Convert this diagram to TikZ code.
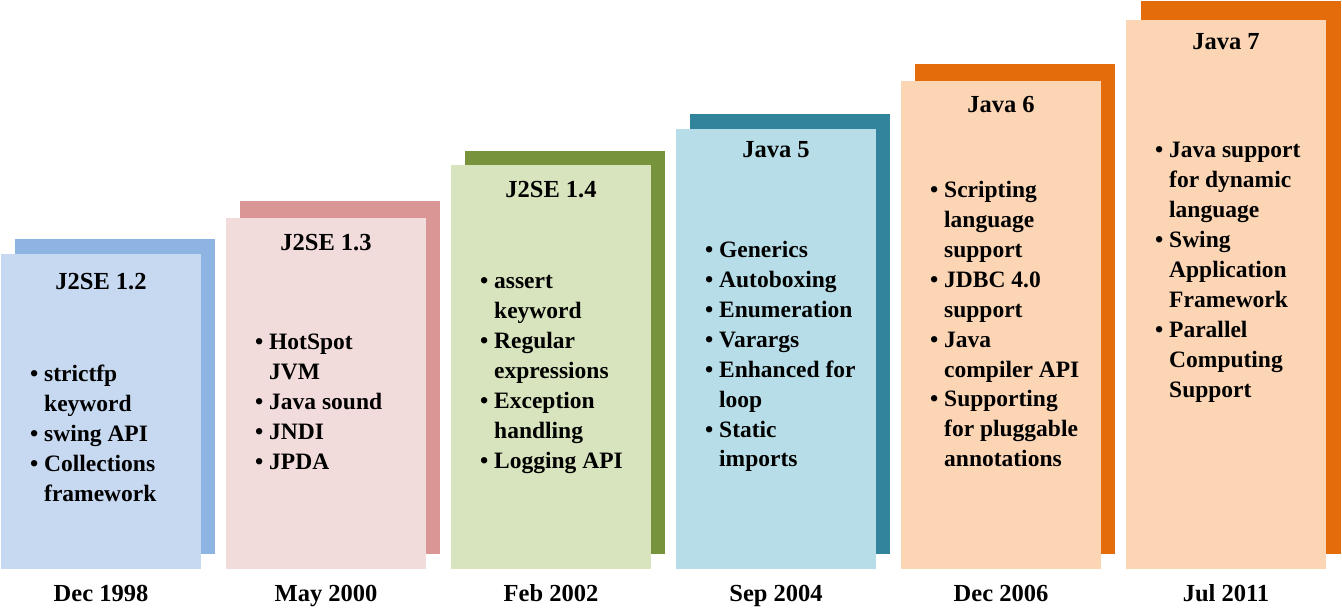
\documentclass[tikz,border=0pt]{standalone}
\usepackage{fontspec}
\setmainfont{Liberation Serif}
\definecolor{fA}{HTML}{C6D9F1}\definecolor{bA}{HTML}{8EB4E3}
\definecolor{fB}{HTML}{F2DCDB}\definecolor{bB}{HTML}{D99694}
\definecolor{fC}{HTML}{D7E4BD}\definecolor{bC}{HTML}{77933C}
\definecolor{fD}{HTML}{B7DEE8}\definecolor{bD}{HTML}{31849B}
\definecolor{fE}{HTML}{FCD5B5}\definecolor{bE}{HTML}{E46C0A}
\newcommand\myb{\makebox[14pt][l]{\textbullet}}
\begin{document}
\begin{tikzpicture}[x=1pt,y=-1pt,
  panel/.style={draw=none,rectangle,inner sep=0pt,outer sep=0pt,anchor=north west,minimum width=200pt},
  ttl/.style={anchor=base,inner sep=0pt,font=\bfseries\fontsize{24.5}{30}\selectfont},
  items/.style={anchor=base west,inner sep=0pt,font=\bfseries\fontsize{23.5}{30}\selectfont},
  datelbl/.style={anchor=base,inner sep=0pt,font=\bfseries\fontsize{24.5}{30}\selectfont}]
\useasboundingbox (0,0) rectangle (1342,615);
% column 1
\node[panel,fill=bA,minimum height=315pt] (back1) at (15,239) {};
\node[panel,fill=fA,minimum height=315pt] (front1) at (1,254) {};
\node[ttl] (title1) at (101,289) {J2SE 1.2};
\node[items] (list1) at (30,381) {\begin{tabular}[t]{@{}l@{}l@{}}
\myb&strictfp\\ &keyword\\ \myb&swing API\\ \myb&Collections\\ &framework\end{tabular}};
\node[datelbl] (date1) at (101,601) {Dec 1998};
% column 2
\node[panel,fill=bB,minimum height=353pt] (back2) at (240,201) {};
\node[panel,fill=fB,minimum height=351pt] (front2) at (226,218) {};
\node[ttl] (title2) at (326,250) {J2SE 1.3};
\node[items] (list2) at (255,349) {\begin{tabular}[t]{@{}l@{}l@{}}
\myb&HotSpot\\ &JVM\\ \myb&Java sound\\ \myb&JNDI\\ \myb&JPDA\end{tabular}};
\node[datelbl] (date2) at (326,601) {May 2000};
% column 3
\node[panel,fill=bC,minimum height=403pt] (back3) at (465,151) {};
\node[panel,fill=fC,minimum height=404pt] (front3) at (451,165) {};
\node[ttl] (title3) at (551,197) {J2SE 1.4};
\node[items] (list3) at (480,288) {\begin{tabular}[t]{@{}l@{}l@{}}
\myb&assert\\ &keyword\\ \myb&Regular\\ &expressions\\ \myb&Exception\\ &handling\\ \myb&Logging API\end{tabular}};
\node[datelbl] (date3) at (551,601) {Feb 2002};
% column 4
\node[panel,fill=bD,minimum height=440pt] (back4) at (690,114) {};
\node[panel,fill=fD,minimum height=440pt] (front4) at (676,129) {};
\node[ttl] (title4) at (776,158) {Java 5};
\node[items] (list4) at (705,257) {\begin{tabular}[t]{@{}l@{}l@{}}
\myb&Generics\\ \myb&Autoboxing\\ \myb&Enumeration\\ \myb&Varargs\\ \myb&Enhanced for\\ &loop\\ \myb&Static\\ &imports\end{tabular}};
\node[datelbl] (date4) at (776,601) {Sep 2004};
% column 5
\node[panel,fill=bE,minimum height=490pt] (back5) at (915,64) {};
\node[panel,fill=fE,minimum height=488pt] (front5) at (901,81) {};
\node[ttl] (title5) at (1001,113) {Java 6};
\node[items] (list5) at (930,197) {\begin{tabular}[t]{@{}l@{}l@{}}
\myb&Scripting\\ &language\\ &support\\ \myb&JDBC 4.0\\ &support\\ \myb&Java\\ &compiler API\\ \myb&Supporting\\ &for pluggable\\ &annotations\end{tabular}};
\node[datelbl] (date5) at (1001,601) {Dec 2006};
% column 6
\node[panel,fill=bE,minimum height=553pt] (back6) at (1141,1) {};
\node[panel,fill=fE,minimum height=549pt] (front6) at (1126,20) {};
\node[ttl] (title6) at (1226,50) {Java 7};
\node[items] (list6) at (1155,158) {\begin{tabular}[t]{@{}l@{}l@{}}
\myb&Java support\\ &for dynamic\\ &language\\ \myb&Swing\\ &Application\\ &Framework\\ \myb&Parallel\\ &Computing\\ &Support\end{tabular}};
\node[datelbl] (date6) at (1226,601) {Jul 2011};
\end{tikzpicture}
\end{document}
